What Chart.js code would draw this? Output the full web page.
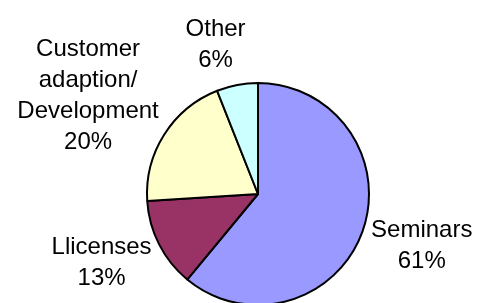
<!DOCTYPE html>
<html>
<head>
<meta charset="utf-8">
<script src="https://cdn.jsdelivr.net/npm/chart.js@4"></script>
<style>
  html, body { margin: 0; padding: 0; overflow: hidden; background: #fff; }
</style>
</head>
<body>
<canvas id="pieChart" width="478" height="310"></canvas>
<script>
// chart data
const categories = [['Seminars'], ['Llicenses'], ['Customer', 'adaption/', 'Development'], ['Other']];
const shares = [61, 13, 20, 6];
const sliceColors = ['#9999FF', '#993366', '#FFFFCC', '#CCFFFF'];

// labels outside the slices, placed along the middle angle of each arc
const outsideLabels = {
    id: 'outsideLabels',
    afterDatasetsDraw(chart) {
        const ctx = chart.ctx;
        const meta = chart.getDatasetMeta(0);
        const total = shares.reduce((a, b) => a + b, 0);
        const lineHeight = 31;
        ctx.save();
        ctx.font = '24px "Liberation Sans", Arial, sans-serif';
        ctx.fillStyle = '#000';
        ctx.textAlign = 'center';
        ctx.textBaseline = 'middle';
        meta.data.forEach((arc, i) => {
            const p = arc.getProps(['x', 'y', 'startAngle', 'endAngle', 'outerRadius'], true);
            const mid = (p.startAngle + p.endAngle) / 2;
            const dx = Math.cos(mid), dy = Math.sin(mid);
            const lines = categories[i].concat([Math.round(shares[i] / total * 100) + '%']);
            const w = Math.max(...lines.map(l => ctx.measureText(l).width));
            const h = lines.length * lineHeight;
            const r = p.outerRadius + 10;
            // push the box out so its edge sits near the ray point
            const cx = p.x + dx * r + Math.sign(dx) * Math.pow(Math.abs(dx), 0.25) * w / 2;
            const cy = p.y + dy * r + dy * h / 2;
            lines.forEach((l, j) => {
                ctx.fillText(l, cx, cy - h / 2 + lineHeight * (j + 0.5));
            });
        });
        ctx.restore();
    }
};

const ctx = document.getElementById('pieChart').getContext('2d');
new Chart(ctx, {
    type: 'pie',
    data: {
        labels: categories.map(c => c.join(' ')),
        datasets: [{
            data: shares,
            backgroundColor: sliceColors,
            borderColor: '#000',
            borderWidth: 2
        }]
    },
    options: {
        responsive: false,
        animation: false,
        layout: { padding: { left: 146, right: 108, top: 82, bottom: 4 } },
        plugins: {
            legend: { display: false },
            tooltip: { enabled: false }
        }
    },
    plugins: [outsideLabels]
});
</script>
</body>
</html>
